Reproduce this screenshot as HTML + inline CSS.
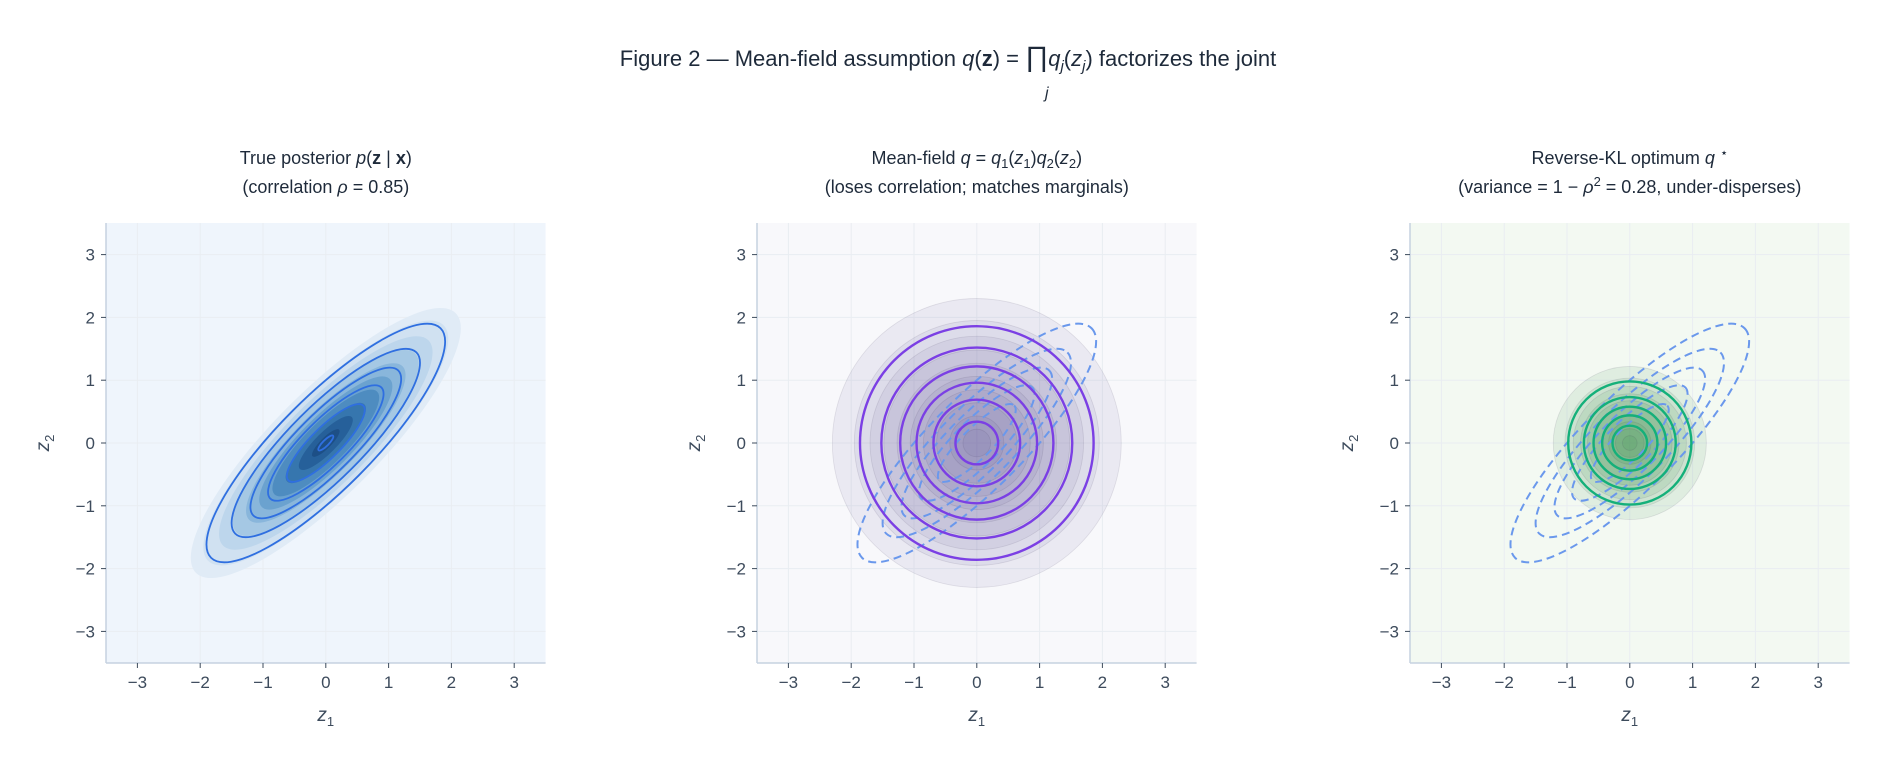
<!DOCTYPE html>
<html><head><meta charset="utf-8"><style>
html,body{margin:0;padding:0;background:#fff;}
svg{display:block;font-family:"Liberation Sans","DejaVu Sans",sans-serif;}
</style></head><body>
<svg id="fig" width="1896" height="764" viewBox="0 0 1896 764" xmlns="http://www.w3.org/2000/svg">
<text x="948" y="66" text-anchor="middle" font-size="22" fill="#1e2a3a">Figure 2 — Mean-field assumption <tspan font-style="italic">q</tspan>(<tspan font-weight="bold">z</tspan>) = <tspan font-size="28">∏</tspan><tspan font-style="italic">q</tspan><tspan font-style="italic" font-size="15" dy="5">j</tspan><tspan dy="-5">(</tspan><tspan font-style="italic">z</tspan><tspan font-style="italic" font-size="15" dy="5">j</tspan><tspan dy="-5">) factorizes the joint</tspan></text>
<text x="1045" y="98" font-size="16" font-style="italic" fill="#1e2a3a">j</text>
<g id="panels"></g>
</svg>
<script>
// data
const ticks = [-3,-2,-1,0,1,2,3];
const tickLabels = ["−3","−2","−1","0","1","2","3"];
const rho = 0.85;
const trueLineLevels = [1.9,1.5,1.2,0.92,0.62,0.12];
const fillLevels = [2.15,1.95,1.7,1.48,1.27,1.06,0.85,0.64,0.43,0.22];
const qFillLevels = [2.3,1.95,1.7,1.48,1.27,1.06,0.85,0.64,0.43,0.22];
const mfLineLevels = [1.86,1.52,1.22,0.96,0.69,0.34];
const rklStd = 0.53;
const rklLineLevels = [1.85,1.38,1.09,0.83,0.52];
const blueFills = ["#e0ebf6","#d0e1f1","#bdd6ec","#a5c8e4","#89b6db","#6ba2cf","#4e8cc0","#3676ae","#26609a","#1d4f86"];

const NS="http://www.w3.org/2000/svg";
const root=document.getElementById('panels');
function mk(tag,attrs,parent){const e=document.createElementNS(NS,tag);for(const k in attrs)e.setAttribute(k,attrs[k]);(parent||root).appendChild(e);return e;}

const U=62.8, CY=443, TOP=223, BOT=663;
const panels=[
 {x0:106,bg:"#eff5fc",t1:'True posterior <tspan font-style="italic">p</tspan>(<tspan font-weight="bold">z</tspan> | <tspan font-weight="bold">x</tspan>)',t2:'(correlation <tspan font-style="italic">ρ</tspan> = 0.85)'},
 {x0:757,bg:"#f8f8fb",t1:'Mean-field <tspan font-style="italic">q</tspan> = <tspan font-style="italic">q</tspan><tspan font-size="13" dy="4">1</tspan><tspan dy="-4">(</tspan><tspan font-style="italic">z</tspan><tspan font-size="13" dy="4">1</tspan><tspan dy="-4">)</tspan><tspan font-style="italic">q</tspan><tspan font-size="13" dy="4">2</tspan><tspan dy="-4">(</tspan><tspan font-style="italic">z</tspan><tspan font-size="13" dy="4">2</tspan><tspan dy="-4">)</tspan>',t2:'(loses correlation; matches marginals)'},
 {x0:1410,bg:"#f3f9f2",t1:'Reverse-KL optimum <tspan font-style="italic">q</tspan> <tspan dy="-7" font-size="13">⋆</tspan>',t2:'(variance = 1 − <tspan font-style="italic">ρ</tspan><tspan dy="-7" font-size="13">2</tspan><tspan dy="7"> = 0.28, under-disperses)</tspan>'}
];
const a=Math.sqrt(1+rho), b=Math.sqrt(1-rho);

panels.forEach((p,i)=>{
  const g=mk('g',{});
  
  
  const cx=p.x0+3.5*U;
  const X=v=>cx+v*U, Y=v=>CY-v*U;
  const clipId='clip'+i;
  const cp=mk('clipPath',{id:clipId},g);
  mk('rect',{x:p.x0,y:TOP,width:7*U,height:BOT-TOP},cp);
  const bg=mk('rect',{x:p.x0,y:TOP,width:7*U,height:BOT-TOP,fill:p.bg},g);
  
  
  ticks.forEach(t=>{
    mk('line',{x1:X(t),x2:X(t),y1:TOP,y2:BOT,stroke:"#e9edf2","stroke-width":1},g);
    mk('line',{x1:p.x0,x2:p.x0+7*U,y1:Y(t),y2:Y(t),stroke:"#e9edf2","stroke-width":1},g);
  });
  const pg=mk('g',{'clip-path':'url(#'+clipId+')'},g);
  const ell=(r,attrs)=>mk('ellipse',Object.assign({cx:X(0),cy:Y(0),rx:r*a*U,ry:r*b*U,transform:`rotate(-45 ${X(0)} ${Y(0)})`},attrs),pg);
  const circ=(r,attrs)=>mk('circle',Object.assign({cx:X(0),cy:Y(0),r:r*U},attrs),pg);
  if(i===0){
    fillLevels.forEach((r,k)=>{const e=ell(r,{fill:blueFills[k]});
      
      });
    trueLineLevels.forEach(r=>{const e=ell(r,{fill:"none",stroke:"#2f6fe0","stroke-width":1.8});
      
      });
  } else {
    const s = i===1?1:rklStd;
    const fc = i===1?"rgba(105,90,160,0.09)":"rgba(50,140,70,0.10)";
    const lc = i===1?"#7b3fe4":"#14b07a";
    qFillLevels.forEach(r=>{const e=circ(r*s,{fill:fc,stroke:"rgba(60,50,80,0.12)","stroke-width":0.8});
      
      });
    trueLineLevels.slice(0,5).forEach(r=>{const e=ell(r,{fill:"none",stroke:"#6a98ec","stroke-width":2,"stroke-dasharray":"8 5"});
      
      });
    const lv = i===1?mfLineLevels:rklLineLevels;
    lv.forEach(r=>{const e=circ(r*s,{fill:"none",stroke:lc,"stroke-width":2.4});
      
      });
  }
  mk('line',{x1:p.x0,x2:p.x0,y1:TOP,y2:BOT,stroke:"#c6d2e0","stroke-width":1.5},g);
  mk('line',{x1:p.x0,x2:p.x0+7*U,y1:BOT,y2:BOT,stroke:"#c6d2e0","stroke-width":1.5},g);
  ticks.forEach((t,k)=>{
    mk('line',{x1:X(t),x2:X(t),y1:BOT,y2:BOT+5,stroke:"#3d4b5c","stroke-width":1},g);
    const tx=mk('text',{x:X(t),y:BOT+25,"text-anchor":"middle","font-size":17,fill:"#3d4b5c"},g);
    tx.textContent=tickLabels[k];
    
    
    mk('line',{x1:p.x0-5,x2:p.x0,y1:Y(t),y2:Y(t),stroke:"#3d4b5c","stroke-width":1},g);
    const ty=mk('text',{x:p.x0-11,y:Y(t)+6,"text-anchor":"end","font-size":17,fill:"#3d4b5c"},g);
    ty.textContent=tickLabels[k];
    
    
  });
  const xl=mk('text',{x:cx,y:721,"text-anchor":"middle","font-size":19,fill:"#3d4b5c"},g);
  xl.innerHTML='<tspan font-style="italic">z</tspan><tspan font-size="13" dy="5">1</tspan>';
  
  
  const yl=mk('text',{x:0,y:0,"text-anchor":"middle","font-size":19,fill:"#3d4b5c",transform:`translate(${p.x0-57},${CY}) rotate(-90)`},g);
  yl.innerHTML='<tspan font-style="italic">z</tspan><tspan font-size="13" dy="5">2</tspan>';
  
  
  const t1=mk('text',{x:cx,y:164,"text-anchor":"middle","font-size":18,fill:"#1e2a3a"},g);
  t1.innerHTML=p.t1;
  
  
  const t2=mk('text',{x:cx,y:193,"text-anchor":"middle","font-size":18,fill:"#1e2a3a"},g);
  t2.innerHTML=p.t2;
  
  
});
</script>
</body></html>
